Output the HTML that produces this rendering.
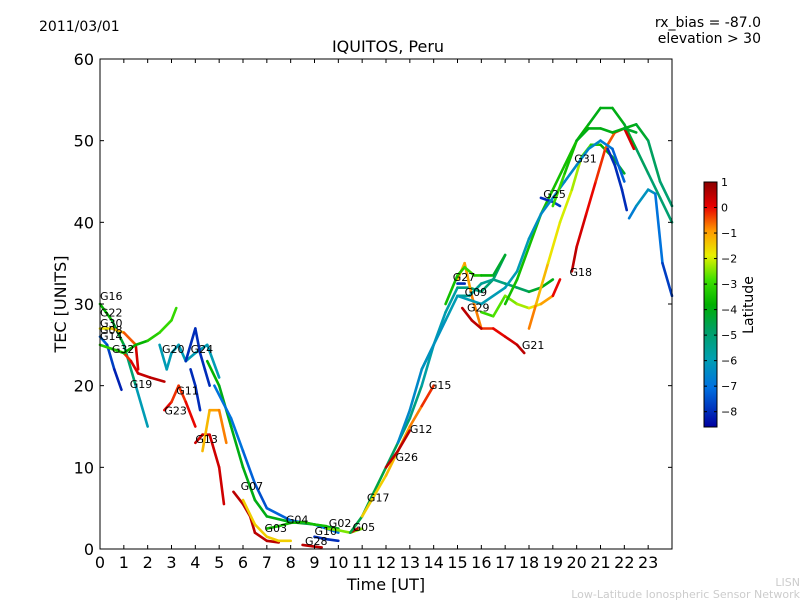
<!DOCTYPE html>
<html><head><meta charset="utf-8"><style>
body{margin:0;background:#fff;}
svg text{font-family:"DejaVu Sans","Liberation Sans",sans-serif;}
</style></head><body>
<svg id="chart" width="800" height="600" xmlns="http://www.w3.org/2000/svg">
<defs>
<linearGradient id="cbar" x1="0" y1="0" x2="0" y2="1">
<stop offset="0" stop-color="#8b0000"/><stop offset="0.1" stop-color="#e80000"/>
<stop offset="0.2" stop-color="#ff9a00"/><stop offset="0.3" stop-color="#e8f000"/>
<stop offset="0.4" stop-color="#3ee000"/><stop offset="0.5" stop-color="#00b000"/>
<stop offset="0.6" stop-color="#00a060"/><stop offset="0.72" stop-color="#00a0b0"/>
<stop offset="0.84" stop-color="#0070e0"/><stop offset="1" stop-color="#0000a0"/>
</linearGradient>
</defs>
<g id="plot"></g>
</svg>
<script>
const tracks = ["G16","G22","G30","G32","G14","G20","G24","G11","G23","G13","G13b","Gmain1","Gmain2","G07","G08","G04","G28","G10","G02","G05","G17","G12","G26","G15","G27","G09","G27b","Gmid1","Gmid2","G29","G21","G31a","G18","G25","G31","Glate1","Glate2","Glate3","Glate4"];
const times = [
[0,0.5,1,1.5,2],[0,0.5,1,1.5,1.6],[0,0.3,0.6,0.9],[0.5,1,1.3,1.6,2.1,2.7],[0,0.5,1,1.5,2,2.5,3,3.2],
[2.5,2.8,3,3.3,3.6,4,4.5,5],[3.6,4,4.2,4.4,4.6],[3.8,4,4.2],[2.7,3,3.3,3.6,4],[4,4.3,4.6,5,5.2],
[4.3,4.6,5,5.3],[4.5,5,5.5,6,6.5,7,8,9,10],[4.8,5.5,6,6.5,7,8,9,10],[5.6,6,6.3,6.5,7,7.5],[6,6.5,7,7.5,8],
[7,7.5,8,8.5,9,9.5],[8.5,9,9.3],[9,9.5,10],[9.5,10,10.5,11],[10.5,10.8],
[10.5,11,11.5,12,12.5,13,13.5,14,14.5,15,15.5,16,16.5,17],[11,11.5,12,12.5,13,13.5,14],[12,12.5,13],[12.5,13,13.5,14],
[15,15.3],[15,15.3,15.6,16,16.5,17,17.5,17.8],[14.5,15,15.3,15.7,16,16.5,17],[15,15.5,16,16.5,17,17.5,18,18.5,19],[16,16.5,17,17.5,18,18.5,19,19.3],
[15.2,15.6,16],[18,18.3,18.8,19.3,19.8,20.2,20.6,21,21.5,22],[17,17.5,18,18.5,19,19.5,20,20.5,21,21.5,22,22.5,23,23.5,24],
[19.8,20,20.4,20.8,21.2,21.6,22,22.4],[18.5,19,19.3],[13.5,14.5,15,16,17,17.5,18,18.5,19,19.5,20,20.5,21,21.5,22],
[21.3,21.6,21.9,22.1],[22,22.5,23,23.5,24],[22.2,22.5,23,23.3,23.6,24],[19,19.5,20,20.5,21,21.5,22,22.5]
];
const tecValues = [
[30,28,25,20,15],[27,27,26.5,25,22],[26,25,22,19.5],[24.5,24,23,21.5,21,20.5],[25,24.5,24,25,25.5,26.5,28,29.5],
[25,22,24,25,23,24,25,21],[23,27,24,22,20],[22,20,17],[17,18,20,18,15],[13,14,14,10,5.5],
[12,17,17,13],[23,20,15,10,6,4,3.3,3,2.5],[20,16,12,8,5,3.5,3,2],[7,5.5,4,2,1,0.8],[6,3,1.5,1,1],
[2.5,2.8,3.2,3.3,3,2.8],[0.5,0.3,0.2],[1.5,1.2,1],[2.5,2.3,2,2.5],[2,2.5],
[2,4,7,10,13,16,20,25,29,32,32,31.5,33,36],[4,6.5,9,12,15,17.5,20],[10,12,14.5],[13,17,22,25],
[32.5,32.5],[33,35,31,27,27,26,25,24],[30,33.5,34.5,33.5,33.5,33.5,36],[31,31,32.5,33,32.5,32,31.5,32,33],[29,28.5,31,30,29.5,30,31,33],
[29.5,28,27],[27,30,35,40,44,48,49.5,49.5,48,46],[30,33,37,41,44,47,50,52,54,54,52,49,46,43,40],
[34,37,41,45,49,51,51.5,49],[43,42.5,42],[22,28,31,30,32,34,38,41,43,45,47,49,50,49,45],
[49,47,44,41.5],[51.5,52,50,45,42],[40.5,42,44,43.5,35,31],[42,46,50,51.5,51.5,51,51.5,51]
];
const latValues = [
[-3.5,-4,-4.5,-5.5,-6.5],[-2,-1.5,-1,0,0.5],[-7,-7.5,-8,-8.3],[-1,-0.5,0,0.3,0.5,0.5],[-3,-3.5,-3.5,-4,-3.5,-3,-3,-3],
[-6,-6,-6,-6,-6,-6,-6,-6],[-8,-8,-8,-8,-8],[-8,-8,-8],[0,0,-0.5,0,0],[0.3,0.3,0.3,0.3,0.3],
[-1.5,-1,-1,-0.5],[-3.5,-4,-4,-4,-4,-4,-4,-4,-4],[-7,-7,-7,-7.5,-7.5,-7,-7,-7],[0.5,0.5,0.5,0.5,0.5,0.5],[-1.5,-1.5,-1.5,-1.5,-1.5],
[-3.5,-3.5,-3.5,-3.5,-3.5,-3.5],[0.5,0.5,0.5],[-8,-8,-8],[-2.5,-2.5,-2.5,-2.5],[0.5,0.5],
[-4.5,-4.5,-4.5,-4.5,-5,-5,-5.5,-6,-6,-5.5,-5,-5,-5,-5],[-1.5,-1.5,-1.5,-1,-1,-0.5,0],[0.5,0.5,0.5],[-6.5,-6.5,-6.5,-6.5],
[-8,-8],[-1.5,-1,-1,-0.5,0,0,0.5,0.5],[-3.5,-3.5,-3,-3,-3.5,-4,-4.5],[-5.5,-5.5,-5.5,-5.5,-5,-5,-4.5,-4,-4],[-3,-3,-2.5,-2.5,-2,-1.5,-0.5,0.5],
[0.5,0.5,0.5],[-0.5,-1,-1.5,-2,-2,-2.5,-3,-3.5,-4,-4.5],[-3.5,-3.5,-3.5,-3.5,-3.5,-3.5,-3.5,-4,-4,-4,-4,-4.5,-5,-5,-5],
[0.5,0.5,0,0,-0.5,-0.5,0,0.5],[-8,-8,-7.5],[-6.5,-6,-6,-6,-6,-6,-6,-6.5,-6.5,-6.5,-6.5,-6.5,-6.5,-7,-7.5],
[-8,-8,-8,-8],[-4,-4,-4.5,-5,-5],[-7,-6.5,-6,-6.5,-7.5,-8],[-3,-3,-4,-4,-4,-4,-4,-4.5]
];
const labelNames = ["G16","G22","G30","G08","G14","G32","G20","G24","G19","G11","G23","G13","G07","G03","G04","G28","G10","G02","G05","G17","G12","G26","G15","G27","G09","G29","G21","G25","G31","G18"];
const labelTimes = [0,0,0,0,0,0.5,2.6,3.8,1.25,3.2,2.7,4,5.9,6.9,7.8,8.6,9,9.6,10.6,11.2,13,12.4,13.8,14.8,15.3,15.4,17.7,18.6,19.9,19.7];
const labelTecs = [30.5,28.5,27.2,26.3,25.6,24,24,24,19.7,18.9,16.5,13,7.2,2.1,3.1,0.5,1.7,2.7,2.2,5.8,14.2,10.8,19.6,32.8,31,29.1,24.5,43,47.3,33.4];
const xTicks = [0,1,2,3,4,5,6,7,8,9,10,11,12,13,14,15,16,17,18,19,20,21,22,23];
const yTicks = [0,10,20,30,40,50,60];
const cbTicks = [1,0,-1,-2,-3,-4,-5,-6,-7,-8];

const X0=100,X1=672,Y0=549,Y1=59;
const xs=t=>X0+(t/24)*(X1-X0);
const ys=v=>Y0-(v/60)*(Y0-Y1);
const CB_TOP=182,CB_BOT=427,LMAX=1,LMIN=-8.6;
const cbY=l=>CB_TOP+(LMAX-l)/(LMAX-LMIN)*(CB_BOT-CB_TOP);
const stops=[[0,[139,0,0]],[0.1,[232,0,0]],[0.2,[255,154,0]],[0.3,[232,240,0]],[0.4,[62,224,0]],[0.5,[0,176,0]],[0.6,[0,160,96]],[0.72,[0,160,176]],[0.84,[0,112,224]],[1,[0,0,160]]];
function color(l){let f=(LMAX-l)/(LMAX-LMIN);f=Math.max(0,Math.min(1,f));
 for(let i=1;i<stops.length;i++){if(f<=stops[i][0]){const a=stops[i-1],b=stops[i];const u=(f-a[0])/(b[0]-a[0]);
 const c=a[1].map((v,k)=>Math.round(v+(b[1][k]-v)*u));return `rgb(${c})`;}}return 'rgb(0,0,160)';}
const NS='http://www.w3.org/2000/svg';
const svg=document.getElementById('chart');const g=document.getElementById('plot');
function mk(tag,at,parent){const e=document.createElementNS(NS,tag);for(const k in at)e.setAttribute(k,at[k]);(parent||g).appendChild(e);return e;}

let bg=mk('rect',{x:X0,y:Y1,width:X1-X0,height:Y0-Y1,fill:'#fff'});



tracks.forEach((name,i)=>{
 const tg=mk('g',{});
 
 
 const t=times[i],v=tecValues[i],l=latValues[i];
 for(let j=0;j<t.length-1;j++){
  const s=mk('line',{x1:xs(t[j]),y1:ys(v[j]),x2:xs(t[j+1]),y2:ys(v[j+1]),stroke:color((l[j]+l[j+1])/2),'stroke-width':2.6,'stroke-linecap':'round'},tg);
  
  
 }
});
labelNames.forEach((n,i)=>{
 const tx=mk('text',{x:xs(labelTimes[i]),y:ys(labelTecs[i]),'font-size':11,fill:'#000'});
 tx.textContent=n;
 
 
});
let fr=mk('rect',{x:X0,y:Y1,width:X1-X0,height:Y0-Y1,fill:'none',stroke:'#000','stroke-width':1});


xTicks.forEach(t=>{
 mk('line',{x1:xs(t),x2:xs(t),y1:Y0,y2:Y0-4,stroke:'#000'});
 mk('line',{x1:xs(t),x2:xs(t),y1:Y1,y2:Y1+4,stroke:'#000'});
 const tx=mk('text',{x:xs(t),y:Y0+19,'font-size':16,'text-anchor':'middle'});tx.textContent=t;
 
 
});
yTicks.forEach(v=>{
 mk('line',{x1:X0,x2:X0+4,y1:ys(v),y2:ys(v),stroke:'#000'});
 mk('line',{x1:X1,x2:X1-4,y1:ys(v),y2:ys(v),stroke:'#000'});
 const tx=mk('text',{x:X0-6,y:ys(v)+6,'font-size':16,'text-anchor':'end'});tx.textContent=v;
 
 
});
let cb=mk('rect',{x:704,y:CB_TOP,width:13,height:CB_BOT-CB_TOP,fill:'url(#cbar)',stroke:'#000'});


cbTicks.forEach(l=>{
 mk('line',{x1:704,x2:707,y1:cbY(l),y2:cbY(l),stroke:'#000'});
 mk('line',{x1:714,x2:717,y1:cbY(l),y2:cbY(l),stroke:'#000'});
 const tx=mk('text',{x:721,y:cbY(l)+4,'font-size':11});tx.textContent=(l<0?'\u2212'+(-l):l);
 
 
});
</script>
<svg width="800" height="600" style="position:absolute;left:0;top:0" xmlns="http://www.w3.org/2000/svg">
<text x="39" y="31" font-size="14">2011/03/01</text>
<text x="388" y="52" font-size="16" text-anchor="middle">IQUITOS, Peru</text>
<text x="761" y="27" font-size="14" text-anchor="end">rx_bias = -87.0</text>
<text x="761" y="43" font-size="14" text-anchor="end">elevation &gt; 30</text>
<text x="386" y="590" font-size="16" text-anchor="middle">Time [UT]</text>
<text transform="translate(66,304) rotate(-90)" font-size="16" text-anchor="middle">TEC [UNITS]</text>
<text transform="translate(753,305) rotate(-90)" font-size="14" text-anchor="middle">Latitude</text>
<text x="800" y="586" font-size="11" fill="#ccc" text-anchor="end">LISN</text>
<text x="800" y="598" font-size="11" fill="#ccc" text-anchor="end">Low-Latitude Ionospheric Sensor Network</text>
</svg>
</body></html>
